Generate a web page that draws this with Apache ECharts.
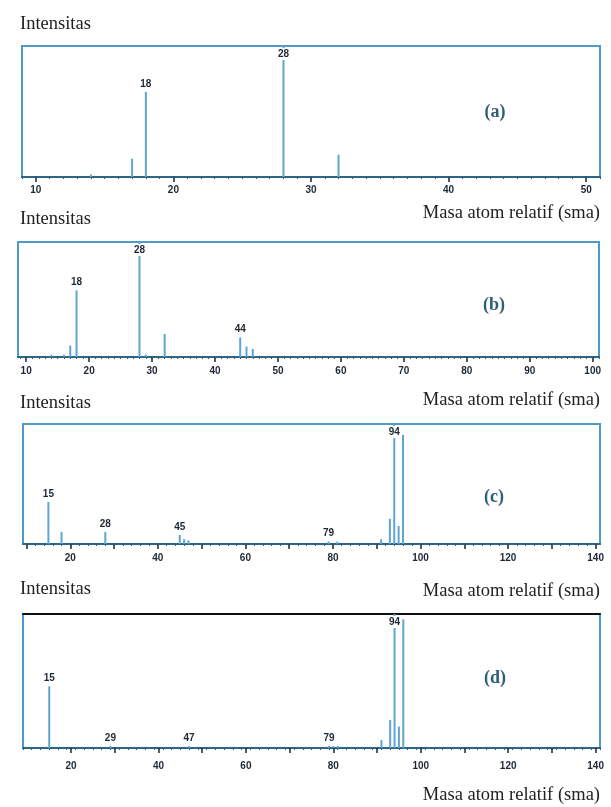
<!DOCTYPE html>
<html><head><meta charset="utf-8">
<script src="https://cdn.jsdelivr.net/npm/echarts@6/dist/echarts.min.js"></script>
<style>html,body{margin:0;padding:0;background:#fff}#c{width:611px;height:807px}</style>
</head><body><div id="c"></div>
<script>
// ---- data ----
// (a)
const aMass = [14, 17, 18, 28, 32];
const aInt  = [2, 14, 65, 100, 17];
const aLabelMass = [18, 28];
const aLabelText = ['18', '28'];
const aTicks = [10, 20, 30, 40, 50];
// (b)
const bMass = [14, 16, 17, 18, 28, 29, 32, 44, 45, 46];
const bInt  = [2, 2, 10, 58, 100, 2, 20, 17, 9, 7];
const bLabelMass = [18, 28, 44];
const bLabelText = ['18', '28', '44'];
const bTicks = [10, 20, 30, 40, 50, 60, 70, 80, 90, 100];
// (c)
const cMass = [15, 18, 28, 45, 46, 47, 79, 81, 91, 93, 94, 95, 96];
const cInt  = [35, 10, 10, 7.5, 4, 3, 2, 2, 4, 21, 100, 15, 91];
const cLabelMass = [15, 28, 45, 79, 94];
const cLabelText = ['15', '28', '45', '79', '94'];
const cTicks = [20, 40, 60, 80, 100, 120, 140];
// (d)
const dMass = [15, 29, 47, 79, 80, 81, 91, 93, 94, 95, 96];
const dInt  = [46, 1.5, 1.5, 1.5, 1.5, 1.5, 6, 21, 100, 16, 96];
const dLabelMass = [15, 29, 47, 79, 94];
const dLabelText = ['15', '29', '47', '79', '94'];
const dTicks = [20, 40, 60, 80, 100, 120, 140];

const panelNames = ['(a)', '(b)', '(c)', '(d)'];
const yTitle = 'Intensitas';
const xTitle = 'Masa atom relatif (sma)';

// ---- layout / style ----
const panels = [
  {mass:aMass, inten:aInt, lm:aLabelMass, lt:aLabelText, labels:aTicks, ticks:aTicks, minor:1,
   min:9, max:51, left:22, top:46, width:578, height:131, margin:8, letter:[495,112]},
  {mass:bMass, inten:bInt, lm:bLabelMass, lt:bLabelText, labels:bTicks, ticks:bTicks, minor:1,
   min:8.7, max:101, left:18, top:242, width:581, height:115, margin:9, letter:[494,305]},
  {mass:cMass, inten:cInt, lm:cLabelMass, lt:cLabelText, labels:cTicks, ticks:[10,20,30,40,50,60,70,80,90,100,110,120,130,140], minor:2,
   min:9.2, max:141, left:23, top:424, width:577, height:120, margin:9, letter:[494,497]},
  {mass:dMass, inten:dInt, lm:dLabelMass, lt:dLabelText, labels:dTicks, ticks:[20,30,40,50,60,70,80,90,100,110,120,130,140], minor:2,
   min:9, max:141, left:23, top:614, width:577, height:134, margin:13, letter:[495,678]}
];

const lineCol = '#4f9bc8';
const peakCol = '#5ea6d2';
const axisCol = '#2c6788';
const txtCol = '#1c2833';

const grid = [], xAxis = [], yAxis = [], series = [];
panels.forEach((p, i) => {
  grid.push({left:p.left, top:p.top, width:p.width, height:p.height, show:true,
    borderColor:lineCol, borderWidth:2, backgroundColor:'transparent'});
  // main axis
  xAxis.push({type:'value', gridIndex:i, min:p.min, max:p.max, position:'bottom',
    axisLine:{show:true, onZero:false, lineStyle:{color:axisCol, width:2}},
    axisTick:{show:true, customValues:p.ticks, length:5, lineStyle:{color:'#1a2630', width:1.5}},
    axisLabel:{show:true, customValues:p.labels, margin:p.margin, color:txtCol,
      fontFamily:'Liberation Sans', fontWeight:'bold', fontSize:10},
    splitLine:{show:false}});
  // minor ticks axis
  const mv = [];
  for (let v = Math.ceil(p.min); v <= p.max; v += p.minor) mv.push(v);
  xAxis.push({type:'value', gridIndex:i, min:p.min, max:p.max, position:'bottom',
    axisLine:{show:false},
    axisTick:{show:true, customValues:mv, length:2, lineStyle:{color:'#3a5a70', width:1}},
    axisLabel:{show:false}, splitLine:{show:false}});
  yAxis.push({type:'value', gridIndex:i, min:0, max:100, show:false});
  const data = p.mass.map((m, k) => {
    const li = p.lm.indexOf(m);
    const item = {value:[m, p.inten[k]]};
    if (li >= 0) {
      const big = p.inten[k] >= 99;
      item.label = {show:true, formatter:p.lt[li], position: big ? 'insideTop' : 'top',
        distance: big ? 2 : 3, color:txtCol, fontFamily:'Liberation Sans', fontWeight:'bold', fontSize:10,
        backgroundColor: big ? '#fff' : 'transparent', padding: big ? [1,0,1,0] : 0};
    }
    return item;
  });
  series.push({type:'bar', xAxisIndex:2*i, yAxisIndex:i, barWidth:2, data:data,
    itemStyle:{color:peakCol}, silent:true, animation:false});
});
// black top edge on panel (d)
xAxis.push({type:'value', gridIndex:3, min:panels[3].min, max:panels[3].max, position:'top',
  axisLine:{show:true, onZero:false, lineStyle:{color:'#111', width:2}},
  axisTick:{show:false}, axisLabel:{show:false}, splitLine:{show:false}});

const serif = '18.5px "Liberation Serif"';
const graphic = [];
[15, 210, 394, 580].forEach(t => graphic.push({type:'text', left:20, top:t,
  style:{text:yTitle, font:serif, fill:'#222'}}));
[204, 391, 582, 786].forEach(t => graphic.push({type:'text', right:11, top:t,
  style:{text:xTitle, font:serif, fill:'#222'}}));
panels.forEach((p, i) => graphic.push({type:'text', x:p.letter[0], y:p.letter[1],
  style:{text:panelNames[i], font:'bold 18px "Liberation Serif"', fill:'#2f5e7c',
    textAlign:'center', textVerticalAlign:'middle'}}));

const chart = echarts.init(document.getElementById('c'));
chart.setOption({animation:false, backgroundColor:'#fff', grid, xAxis, yAxis, series, graphic});
</script></body></html>
